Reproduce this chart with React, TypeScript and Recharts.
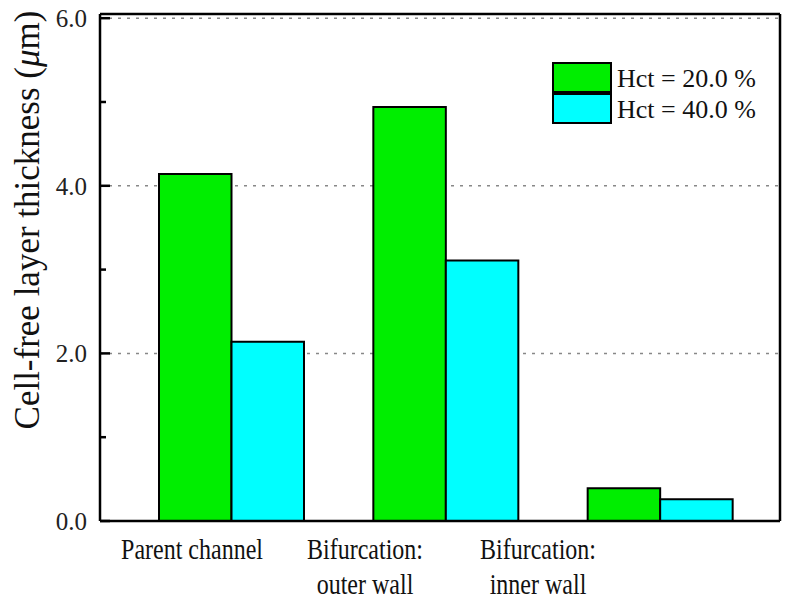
import React from 'react';
import { BarChart, Bar, XAxis, YAxis, CartesianGrid, Legend, Label } from 'recharts';

const categories = ['Parent channel', 'Bifurcation:\nouter wall', 'Bifurcation:\ninner wall'];
const hct20 = [4.14, 4.94, 0.39];
const hct40 = [2.14, 3.11, 0.26];
const seriesNames = ['Hct = 20.0 %', 'Hct = 40.0 %'];
const seriesColors = ['#00ee00', '#00ffff'];
const yTicks = [0, 1, 2, 3, 4, 5, 6];
const gridValues = [2, 4, 6];

const data = categories.map((c, i) => ({ name: c, h20: hct20[i], h40: hct40[i] }));

const FONT = '"Liberation Serif", "Times New Roman", serif';

const LeftTick = (props: any) => {
  const { x, y, payload } = props;
  const v = payload.value;
  const major = v % 2 === 0;
  return (
    <g>
      <line x1={x} x2={x + (major ? 10 : 6)} y1={y} y2={y} stroke="#000" strokeWidth={2.5} />
      {major && (
        <text x={x - 13} y={y} dy="0.35em" textAnchor="end" fontFamily={FONT} fontSize={25} fill="#222">
          {v.toFixed(1)}
        </text>
      )}
    </g>
  );
};

const RightTick = (props: any) => {
  const { x, y, payload } = props;
  const major = payload.value % 2 === 0;
  return <line x1={x} x2={x - (major ? 10 : 6)} y1={y} y2={y} stroke="#000" strokeWidth={2.5} />;
};

const CatTick = (props: any) => {
  const { x, y, payload } = props;
  const lines = String(payload.value).split('\n');
  return (
    <g transform={`translate(${x}, ${y + 38}) scale(1, 1.2)`}>
      <text x={0} y={0} textAnchor="middle" fontFamily={FONT} fontSize={24} fill="#111">
        {lines.map((l, i) => (
          <tspan key={i} x={0} dy={i === 0 ? 0 : 29}>
            {l}
          </tspan>
        ))}
      </text>
    </g>
  );
};

const YLabel = (props: any) => {
  const { viewBox } = props;
  const cx = viewBox.x + 27;
  const cy = 220;
  return (
    <text
      x={cx}
      y={cy}
      transform={`rotate(-90, ${cx}, ${cy})`}
      textAnchor="middle"
      dominantBaseline="central"
      fontFamily={FONT}
      fontSize={35}
      fill="#111"
    >
      Cell-free layer thickness (<tspan fontStyle="italic">μ</tspan>m)
    </text>
  );
};

const LegendContent = (props: any) => {
  const payload = props.payload || [];
  return (
    <svg width={220} height={66} style={{ display: 'block' }}>
      {payload.map((p: any, i: number) => (
        <g key={i}>
          <rect x={1} y={1 + i * 31} width={58} height={29} fill={p.color} stroke="#000" strokeWidth={2} />
          <text x={65} y={16 + i * 31} dominantBaseline="central" fontFamily={FONT} fontSize={26} fill="#111">
            {p.value}
          </text>
        </g>
      ))}
    </svg>
  );
};

export default function App() {
  return (
    <div style={{ position: 'absolute', left: 0, top: 0, width: 790, height: 606, background: '#fff' }}>
      <BarChart
        width={790}
        height={606}
        data={data}
        margin={{ top: 13, right: 9, bottom: 0, left: 0 }}
        barGap={0}
        barSize={72.5}
      >
        <CartesianGrid
          yAxisId="left"
          xAxisId="main"
          vertical={false}
          horizontalValues={gridValues}
          stroke="#888"
          strokeDasharray="3 6"
          strokeWidth={1.5}
        />
        <XAxis
          xAxisId="main"
          dataKey="name"
          orientation="bottom"
          hide
          padding={{ left: 24, right: 13 }}
        />
        <XAxis
          xAxisId="labels"
          dataKey="name"
          orientation="bottom"
          height={85}
          padding={{ left: 5.5, right: 155.5 }}
          axisLine={{ stroke: '#000', strokeWidth: 2.5 }}
          tickLine={false}
          tickSize={0}
          tickMargin={0}
          interval={0}
          tick={<CatTick />}
        />
        <XAxis
          xAxisId="top"
          dataKey="name"
          orientation="top"
          height={1}
          tick={false}
          tickLine={false}
          axisLine={{ stroke: '#000', strokeWidth: 2.5 }}
        />
        <YAxis
          yAxisId="left"
          orientation="left"
          width={100}
          domain={[0, 6.05]}
          ticks={yTicks}
          interval={0}
          tickSize={0}
          tickMargin={0}
          tickLine={false}
          tick={<LeftTick />}
          axisLine={{ stroke: '#000', strokeWidth: 2.5 }}
        >
          <Label content={<YLabel />} />
        </YAxis>
        <YAxis
          yAxisId="right"
          orientation="right"
          width={1}
          domain={[0, 6.05]}
          ticks={yTicks}
          interval={0}
          tickSize={0}
          tickMargin={0}
          tickLine={false}
          tick={<RightTick />}
          axisLine={{ stroke: '#000', strokeWidth: 2.5 }}
        />
        <Legend
          layout="vertical"
          align="center"
          verticalAlign="middle"
          content={<LegendContent />}
          wrapperStyle={{ position: 'absolute', left: 552, top: 62, width: 220, height: 66 }}
        />
        <Bar
          xAxisId="main"
          yAxisId="left"
          dataKey="h20"
          name={seriesNames[0]}
          fill={seriesColors[0]}
          stroke="#000"
          strokeWidth={2}
          isAnimationActive={false}
        />
        <Bar
          xAxisId="main"
          yAxisId="left"
          dataKey="h40"
          name={seriesNames[1]}
          fill={seriesColors[1]}
          stroke="#000"
          strokeWidth={2}
          isAnimationActive={false}
        />
      </BarChart>
    </div>
  );
}
